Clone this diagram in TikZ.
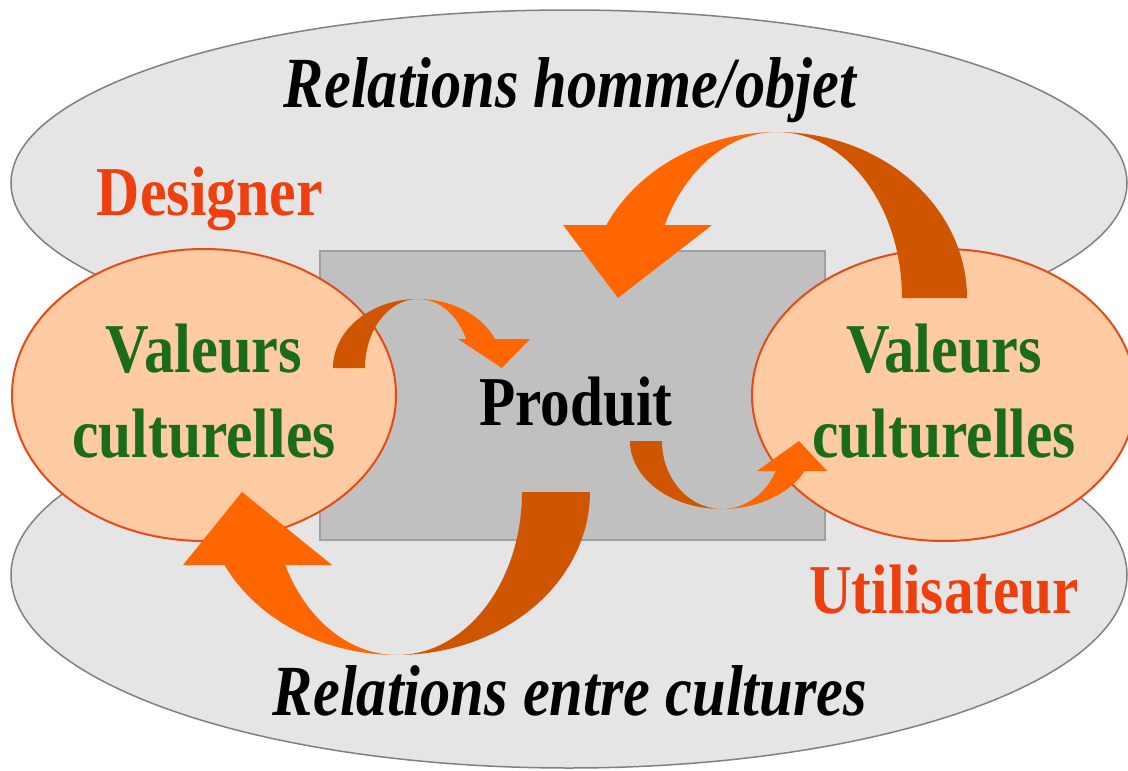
\documentclass[tikz,border=0pt]{standalone}
\usepackage{fontspec}
\setmainfont{Liberation Serif}
\usetikzlibrary{shapes.geometric}
\definecolor{lightor}{HTML}{FF6600}
\definecolor{darkor}{HTML}{D05500}
\definecolor{grayfill}{HTML}{E5E5E5}
\definecolor{grayline}{HTML}{808080}
\definecolor{rectfill}{HTML}{C0C0C0}
\definecolor{rectline}{HTML}{A0A0A0}
\definecolor{salmon}{HTML}{FFCBA3}
\definecolor{salmonline}{HTML}{E64A19}
\definecolor{vgreen}{HTML}{1B6B1B}
\definecolor{vred}{HTML}{EE3F0E}
\tikzset{
  bigoval/.style={ellipse, draw=grayline, fill=grayfill, line width=1.5pt, inner sep=0pt},
  valoval/.style={ellipse, draw=salmonline, fill=salmon, line width=2pt, inner sep=0pt},
  prodbox/.style={draw=rectline, fill=rectfill, line width=1.5pt},
  lbl/.style={anchor=base, inner sep=0pt, font=\fontsize{70}{72}\selectfont\bfseries},
  itlbl/.style={anchor=base, inner sep=0pt, font=\fontsize{72}{74}\selectfont\bfseries\itshape},
}
\newcommand\ribbon[9]{%
  \begin{scope}[shift={#1},#2]
    \pgfmathsetmacro\rbth{180-asin(#6/#5)}
    \fill[darkor] plot[domain=0:90,samples=60,variable=\t]({#3*cos(\t)},{#5*sin(\t)})
      -- plot[domain=90:0,samples=60,variable=\t]({#4*cos(\t)},{#5*sin(\t)}) -- cycle;
    \fill[lightor] plot[domain=90:\rbth,samples=50,variable=\t]({#3*cos(\t)},{#5*sin(\t)})
      -- plot[domain=\rbth:90,samples=50,variable=\t]({#4*cos(\t)},{#5*sin(\t)}) -- cycle;
    \fill[lightor] (-#7,#6) -- (-#8,#6) -- (-#9,0) -- cycle;
  \end{scope}}
\begin{document}
\begin{tikzpicture}[x=1pt,y=-1pt]
\useasboundingbox (0,0) rectangle (1128,771);
\clip (0,0) rectangle (1128,771);
\fill[white] (0,0) rectangle (1128,771);
% big grey ovals
\node[bigoval, minimum width=1116pt, minimum height=346pt] (top) at (569,183) {};
\node[bigoval, minimum width=1116pt, minimum height=386pt] (bot) at (569,575) {};
% product box
\node[prodbox, minimum width=505pt, minimum height=289pt, inner sep=0pt] (prod) at (572.5,395.5) {};
% value ovals
\node[valoval, minimum width=384pt, minimum height=292pt] (vl) at (204,395) {};
\node[valoval, minimum width=384pt, minimum height=292pt] (vr) at (944,395) {};
% ribbon arrows
\ribbon{(777,298)}{xscale=1,yscale=-1}{190}{125}{166}{73}{214}{65}{159}
\ribbon{(397,492)}{xscale=1,yscale=1}{193}{125}{163}{73}{214}{65}{155}
\ribbon{(418,368)}{xscale=-1,yscale=-1}{85}{53}{69}{29}{112}{40}{84}
\ribbon{(722,441)}{xscale=-1,yscale=1}{92}{60}{68}{30}{105}{35}{77}
% labels
\node[itlbl] (t1) at (570,107) {\resizebox{572pt}{\height}{Relations homme/objet}};
\node[itlbl] (t2) at (570,715) {\resizebox{594pt}{\height}{Relations entre cultures}};
\node[lbl, text=vred] (des) at (210,215) {\resizebox{226pt}{\height}{Designer}};
\node[lbl, text=vred] (uti) at (944,613) {\resizebox{270pt}{\height}{Utilisateur}};
\node[lbl, text=vgreen] (vl1) at (204,372) {\resizebox{196pt}{\height}{Valeurs}};
\node[lbl, text=vgreen] (vl2) at (204,457) {\resizebox{263pt}{\height}{culturelles}};
\node[lbl, text=vgreen] (vr1) at (944,372) {\resizebox{196pt}{\height}{Valeurs}};
\node[lbl, text=vgreen] (vr2) at (944,457) {\resizebox{263pt}{\height}{culturelles}};
\node[lbl] (pr) at (576,425) {\resizebox{193pt}{\height}{Produit}};
\end{tikzpicture}
\end{document}
